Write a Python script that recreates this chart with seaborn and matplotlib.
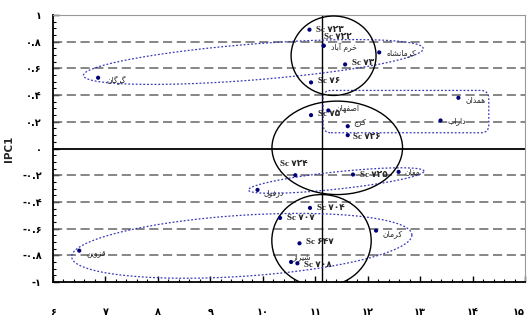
import matplotlib
matplotlib.use("Agg")
import matplotlib.pyplot as plt
import numpy as np
import pandas as pd
import seaborn as sns
from matplotlib.patches import Ellipse, FancyBboxPatch
from matplotlib.ticker import FixedLocator, MultipleLocator

# sample points
names = ["گرگان", "Sc ۷۲۳", "Sc ۷۲۲", "خرم آباد", "کرمانشاه", "Sc ۷۳", "Sc ۷۶",
         "همدان", "داراب", "Sc ۷۵", "اصفهان", "کرج", "Sc ۷۲۶",
         "Sc ۷۲۴", "Sc ۷۲۵", "مغان", "دزفول", "Sc ۷۰۴", "Sc ۷۰۷", "کرمان",
         "Sc ۶۴۷", "شیراز", "Sc ۷۰۸", "قزوین"]
x_vals = [6.86, 10.89, 11.16, 11.16, 12.22, 11.57, 10.92,
          13.73, 13.39, 10.92, 11.25, 11.62, 11.62,
          10.62, 11.72, 12.59, 9.90, 10.90, 10.33, 12.16,
          10.70, 10.54, 10.66, 6.50]
y_vals = [0.53, 0.89, 0.77, 0.77, 0.72, 0.63, 0.495,
          0.38, 0.21, 0.25, 0.285, 0.167, 0.10,
          -0.20, -0.195, -0.175, -0.31, -0.445, -0.52, -0.615,
          -0.71, -0.85, -0.86, -0.765]

x_ticks = [6, 7, 8, 9, 10, 11, 12, 13, 14, 15]
x_tick_labels = ["۶", "۷", "۸", "۹", "۱۰", "۱۱", "۱۲", "۱۳", "۱۴", "۱۵"]
y_ticks = [1, 0.8, 0.6, 0.4, 0.2, 0, -0.2, -0.4, -0.6, -0.8, -1]
y_tick_labels = ["۱", "۰.۸", "۰.۶", "۰.۴", "۰.۲", "۰", "-۰.۲", "-۰.۴", "-۰.۶", "-۰.۸", "-۱"]
grid_levels = [0.8, 0.6, 0.4, 0.2, -0.2, -0.4, -0.6, -0.8]
x_center_line = 11.13

# label offsets in points (dx, dy), per point
offsets = [(6, -2), (5, 0), (0, 6), (5, -1), (5, 0), (5, 1), (5, 1),
           (5, -1), (5, 0), (5, 1), (5, 2), (4, 3), (4, -1),
           (-11, 8), (5, 0), (4, 0), (4, -2), (5, 0), (5, 0), (5, -2),
           (5, 1), (1, 4), (5, -1), (5, -2)]

# minimal arabic/persian shaping, matplotlib does no joining or bidi
FORMS = {
    "ا": ("\uFE8D", "\uFE8E", None, None),
    "آ": ("\uFE81", "\uFE82", None, None),
    "ب": ("\uFE8F", "\uFE90", "\uFE91", "\uFE92"),
    "ج": ("\uFE9D", "\uFE9E", "\uFE9F", "\uFEA0"),
    "خ": ("\uFEA5", "\uFEA6", "\uFEA7", "\uFEA8"),
    "د": ("\uFEA9", "\uFEAA", None, None),
    "ر": ("\uFEAD", "\uFEAE", None, None),
    "ز": ("\uFEAF", "\uFEB0", None, None),
    "ش": ("\uFEB5", "\uFEB6", "\uFEB7", "\uFEB8"),
    "ص": ("\uFEB9", "\uFEBA", "\uFEBB", "\uFEBC"),
    "ط": ("\uFEC1", "\uFEC2", "\uFEC3", "\uFEC4"),
    "غ": ("\uFECD", "\uFECE", "\uFECF", "\uFED0"),
    "ف": ("\uFED1", "\uFED2", "\uFED3", "\uFED4"),
    "ق": ("\uFED5", "\uFED6", "\uFED7", "\uFED8"),
    "ل": ("\uFEDD", "\uFEDE", "\uFEDF", "\uFEE0"),
    "م": ("\uFEE1", "\uFEE2", "\uFEE3", "\uFEE4"),
    "ن": ("\uFEE5", "\uFEE6", "\uFEE7", "\uFEE8"),
    "ه": ("\uFEE9", "\uFEEA", "\uFEEB", "\uFEEC"),
    "و": ("\uFEED", "\uFEEE", None, None),
    "ی": ("\uFBFC", "\uFBFD", "\uFBFE", "\uFBFF"),
    "ک": ("\uFB8E", "\uFB8F", "\uFB90", "\uFB91"),
    "گ": ("\uFB92", "\uFB93", "\uFB94", "\uFB95"),
}


def shapePersian(word: str) -> str:
    if word.startswith("Sc"):
        return word
    out = []
    for i, c in enumerate(word):
        if c not in FORMS:
            out.append(c)
            continue
        prev = word[i - 1] if i > 0 else None
        nxt = word[i + 1] if i + 1 < len(word) else None
        joinPrev = prev in FORMS and FORMS[prev][2] is not None
        joinNext = nxt in FORMS and FORMS[c][2] is not None
        iso, fin, ini, med = FORMS[c]
        if joinPrev and joinNext:
            out.append(med)
        elif joinPrev:
            out.append(fin)
        elif joinNext:
            out.append(ini)
        else:
            out.append(iso)
    return "".join(reversed(out))


def dottedEllipse(ax, cx, cy, ux, uy, vx, vy):
    t = np.linspace(0, 2 * np.pi, 300)
    ax.plot(cx + ux * np.cos(t) + vx * np.sin(t),
            cy + uy * np.cos(t) + vy * np.sin(t),
            color="#3a3ab8", lw=0.9, linestyle=(0, (1.5, 1.5)), zorder=3)


def main() -> None:
    sns.set_style("white")
    plt.rcParams["font.family"] = ["DejaVu Sans"]

    df = pd.DataFrame({"name": names, "x": x_vals, "y": y_vals})

    fig = plt.figure(figsize=(5.28, 3.22), dpi=100)
    ax = fig.add_axes([0.1004, 0.1242, 0.8939, 0.8292])

    for lvl in grid_levels:
        ax.axhline(lvl, color="#666666", lw=1.1, linestyle=(0, (6, 3)), zorder=1)
    ax.axhline(0, color="black", lw=1.3, zorder=2)
    ax.axvline(x_center_line, color="black", lw=1.0, zorder=2)

    sns.scatterplot(data=df, x="x", y="y", ax=ax, color="#00007a", s=9,
                    edgecolor="none", zorder=5, legend=False)

    for nm, xx, yy, (dx, dy) in zip(df["name"], df["x"], df["y"], offsets):
        if nm.startswith("Sc"):
            ax.annotate(nm, (xx, yy), xytext=(dx, dy), textcoords="offset points",
                        fontsize=6.5, fontweight="bold", va="center", ha="left",
                        family=["Liberation Serif", "DejaVu Sans"], zorder=6)
        else:
            ax.annotate(shapePersian(nm), (xx, yy), xytext=(dx, dy),
                        textcoords="offset points", fontsize=5.5, va="center",
                        ha="left", family=["DejaVu Sans"], zorder=6)

    # black circles around the groups
    for cx, cy, w, h in [(11.35, 0.695, 1.62, 0.595),
                         (11.42, 0.005, 2.49, 0.70),
                         (11.12, -0.69, 1.895, 0.69)]:
        ax.add_patch(Ellipse((cx, cy), w, h, fill=False, edgecolor="black",
                             lw=1.0, zorder=4))

    # dotted blue outlines
    dottedEllipse(ax, 9.82, 0.648, 3.24, 0.10, 0.0, 0.135)
    dottedEllipse(ax, 11.40, -0.24, 1.675, 0.07, 0.0, 0.065)
    dottedEllipse(ax, 9.60, -0.729, 3.244, 0.081, 0.0, 0.229)
    ax.add_patch(FancyBboxPatch((11.15, 0.118), 3.16, 0.317,
                                boxstyle="round,pad=0,rounding_size=0.15",
                                mutation_aspect=0.393, fill=False,
                                edgecolor="#3a3ab8", lw=0.9,
                                linestyle=(0, (1.5, 1.5)), zorder=3))

    ax.set_xlim(6, 15)
    ax.set_ylim(-1, 1)
    ax.xaxis.set_major_locator(FixedLocator(x_ticks))
    ax.set_xticklabels(x_tick_labels)
    ax.xaxis.set_minor_locator(MultipleLocator(0.2))
    ax.yaxis.set_major_locator(FixedLocator(y_ticks))
    ax.set_yticklabels(y_tick_labels)
    ax.yaxis.set_minor_locator(MultipleLocator(0.05))
    ax.tick_params(which="both", direction="in", bottom=True, left=True,
                   top=False, right=False, colors="black")
    ax.tick_params(which="major", length=4, width=1)
    ax.tick_params(which="minor", length=2.5, width=0.8)
    ax.tick_params(axis="x", which="major", pad=18, labelsize=7)
    ax.tick_params(axis="y", which="major", pad=8, labelsize=7)
    for lab in ax.get_xticklabels() + ax.get_yticklabels():
        lab.set_fontweight("bold")
    # last x label sits at the figure edge, keep it inside
    ax.get_xticklabels()[-1].set_horizontalalignment("right")

    ax.set_xlabel("")
    ax.set_ylabel("IPC1", fontsize=7.5, fontweight="bold", labelpad=6)

    ax.spines["left"].set_color("black")
    ax.spines["left"].set_linewidth(1.3)
    ax.spines["bottom"].set_color("black")
    ax.spines["bottom"].set_linewidth(1.3)
    ax.spines["top"].set_color("#999999")
    ax.spines["top"].set_linewidth(0.8)
    ax.spines["right"].set_color("#999999")
    ax.spines["right"].set_linewidth(0.8)

    fig.savefig("out.png", dpi=100)


if __name__ == "__main__":
    main()
